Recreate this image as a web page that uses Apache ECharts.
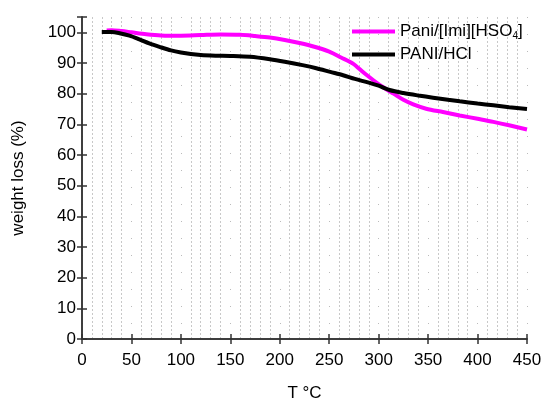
<!DOCTYPE html>
<html>
<head>
<meta charset="utf-8">
<script src="https://cdn.jsdelivr.net/npm/echarts@6/dist/echarts.min.js"></script>
<style>html,body{margin:0;padding:0;background:#fff}#c{width:541px;height:399px}</style>
</head>
<body>
<div id="c"></div>
<script>
var seriesNames = ['Pani/[Imi][HSO4]', 'PANI/HCl'];
var tempPani = [25, 30, 40, 50, 65, 80, 100, 120, 140, 160, 175, 190, 205, 220, 235, 250, 262, 274, 285, 295, 305, 315, 325, 335, 348, 365, 382, 400, 416, 433, 450];
var weightPani = [100.6, 100.7, 100.4, 100.0, 99.4, 99.0, 98.9, 99.1, 99.3, 99.2, 98.8, 98.3, 97.5, 96.5, 95.3, 93.7, 91.8, 89.8, 86.8, 84.3, 82.0, 80.0, 78.0, 76.5, 75.1, 74.0, 72.9, 71.8, 70.8, 69.6, 68.3];
var tempHCl = [20, 30, 38, 48, 58, 68, 79, 90, 100, 110, 120, 135, 150, 170, 190, 205, 223, 237, 251, 264, 276, 290, 300, 311, 325, 340, 355, 370, 382, 400, 416, 432, 450];
var weightHCl = [100.1, 100.1, 99.7, 98.9, 97.7, 96.4, 95.2, 94.1, 93.4, 92.9, 92.6, 92.4, 92.3, 92.0, 91.2, 90.4, 89.3, 88.3, 87.1, 86.0, 84.8, 83.6, 82.6, 81.2, 80.2, 79.4, 78.7, 78.0, 77.5, 76.8, 76.2, 75.6, 75.0];
var xTicks = [0, 50, 100, 150, 200, 250, 300, 350, 400, 450];
var yTicks = [0, 10, 20, 30, 40, 50, 60, 70, 80, 90, 100];

function pairs(xs, ys) { return xs.map(function (x, i) { return [x, ys[i]]; }); }

var font = "'Liberation Sans', Arial, sans-serif";
var axisCol = '#333';
var chart = echarts.init(document.getElementById('c'));
chart.setOption({
  animation: false,
  textStyle: { fontFamily: font },
  grid: { left: 82, right: 14, top: 17, bottom: 60, containLabel: false, outerBoundsMode: 'none' },
  legend: {
    orient: 'vertical',
    left: 347, top: 17,
    icon: 'rect',
    itemWidth: 43, itemHeight: 4, itemGap: 4,
    data: seriesNames,
    formatter: function (n) {
      return n === seriesNames[0] ? 'Pani/[Imi][HSO{sub|4}]' : n;
    },
    textStyle: {
      fontFamily: font, fontSize: 17, color: '#000', lineHeight: 19,
      rich: {
        sub: { fontSize: 10, fontFamily: font, color: '#000', padding: [9, 0, 0, 0] }
      }
    }
  },
  xAxis: [{
    type: 'value', min: 0, max: 450, interval: 50,
    name: 'T °C', nameLocation: 'middle', nameGap: 46,
    nameTextStyle: { fontSize: 17, color: '#000', fontFamily: font },
    axisLine: { onZero: false, lineStyle: { color: axisCol, width: 1.5 } },
    axisTick: { length: 5, lineStyle: { color: axisCol, width: 1.5 } },
    axisLabel: { fontSize: 17, color: '#000', margin: 13, fontFamily: font,
      formatter: function (v) { return xTicks.indexOf(v) >= 0 ? String(v) : ''; } },
    splitLine: { show: true, lineStyle: { color: '#bbb', width: 1, type: [1, 16] } },
    minorTick: { show: false, splitNumber: 5 },
    minorSplitLine: { show: true, lineStyle: { color: '#c8c8c8', width: 1, type: [2, 2] } }
  }, {
    type: 'value', position: 'top', min: 0, max: 450, interval: 50,
    axisLine: { show: true, lineStyle: { color: axisCol, width: 1.5 } },
    axisTick: { show: true, length: 5, lineStyle: { color: axisCol, width: 1.5 } },
    axisLabel: { show: false }, splitLine: { show: false }
  }],
  yAxis: [{
    type: 'value', min: 0, max: 105, interval: 10,
    name: 'weight loss (%)', nameLocation: 'middle', nameGap: 55,
    nameTextStyle: { fontSize: 17, color: '#000', fontFamily: font },
    axisLine: { show: true, onZero: false, lineStyle: { color: axisCol, width: 1.5 } },
    axisTick: { show: true, length: 5, lineStyle: { color: axisCol, width: 1.5 } },
    axisLabel: { fontSize: 17, color: '#000', margin: 6, fontFamily: font,
      formatter: function (v) { return yTicks.indexOf(v) >= 0 ? String(v) : ''; } },
    splitLine: { show: false }
  }, {
    type: 'value', position: 'right', min: 0, max: 105, interval: 10,
    axisLine: { show: true, lineStyle: { color: axisCol, width: 1.5 } },
    axisTick: { show: true, length: 5, lineStyle: { color: axisCol, width: 1.5 } },
    axisLabel: { show: false }, splitLine: { show: false }
  }],
  series: [{
    name: seriesNames[0], type: 'line', smooth: 0.3, showSymbol: false, symbol: 'none',
    data: pairs(tempPani, weightPani),
    lineStyle: { color: '#ff00ff', width: 4 }, itemStyle: { color: '#ff00ff' }, z: 3
  }, {
    name: seriesNames[1], type: 'line', smooth: 0.3, showSymbol: false, symbol: 'none',
    data: pairs(tempHCl, weightHCl),
    lineStyle: { color: '#000', width: 4 }, itemStyle: { color: '#000' }, z: 4
  }]
});
</script>
</body>
</html>
